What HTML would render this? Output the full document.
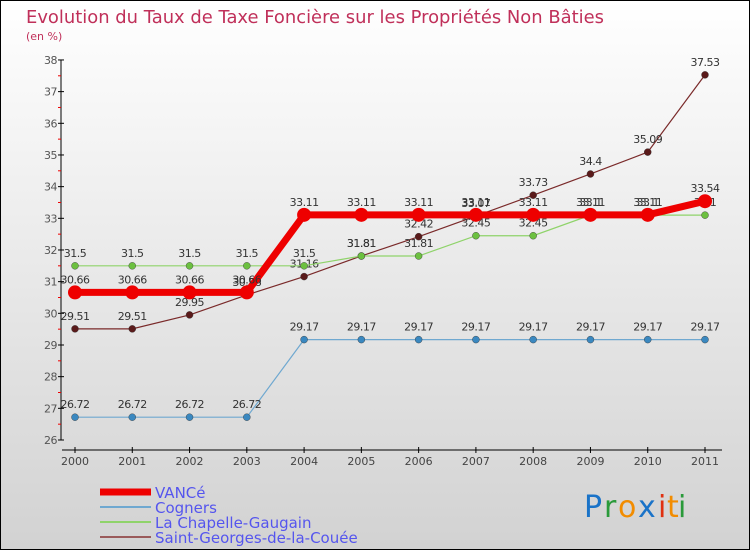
<!DOCTYPE html>
<html><head><meta charset="utf-8"><style>
body{margin:0}
svg text{font-family:"DejaVu Sans","Liberation Sans",sans-serif}
</style></head><body>
<svg id="c" width="750" height="550" viewBox="0 0 750 550" xmlns="http://www.w3.org/2000/svg">
<defs><linearGradient id="bg" x1="0" y1="0" x2="0" y2="1"><stop offset="0" stop-color="#ffffff"/><stop offset="1" stop-color="#d2d2d2"/></linearGradient></defs>
<rect x="0.5" y="0.5" width="749" height="549" fill="url(#bg)" stroke="#000"/>
<text x="26" y="23" font-size="18" fill="#c0305a" textLength="578" lengthAdjust="spacingAndGlyphs">Evolution du Taux de Taxe Foncière sur les Propriétés Non Bâties</text>
<text x="26" y="40" font-size="11" fill="#c0305a">(en %)</text>
<g id="axes"></g><g id="series"></g><g id="legend"></g>
<g font-size="30" font-family="DejaVu Sans, sans-serif">
<text x="584" y="517" fill="#1a73c8">P</text><text x="604" y="517" fill="#2a9a3a">r</text><text x="618" y="517" fill="#f28c00">o</text><text x="638" y="517" fill="#1a73c8">x</text><text x="658" y="517" fill="#e03010">i</text><text x="667" y="517" fill="#f28c00">t</text><text x="678" y="517" fill="#2a9a3a">i</text>
</g>
</svg>
<script>
const years=["2000","2001","2002","2003","2004","2005","2006","2007","2008","2009","2010","2011"];
const yTicks=[26,27,28,29,30,31,32,33,34,35,36,37,38];
const vance=[30.66,30.66,30.66,30.66,33.11,33.11,33.11,33.11,33.11,33.11,33.11,33.54];
const cogners=[26.72,26.72,26.72,26.72,29.17,29.17,29.17,29.17,29.17,29.17,29.17,29.17];
const chapelle=[31.5,31.5,31.5,31.5,31.5,31.81,31.81,32.45,32.45,33.1,33.1,33.1];
const stgeorges=[29.51,29.51,29.95,30.58,31.16,31.81,32.42,33.07,33.73,34.4,35.09,37.53];
const names=["VANCé","Cogners","La Chapelle-Gaugain","Saint-Georges-de-la-Couée"];
const NS="http://www.w3.org/2000/svg";
const xs=i=>75+i*(630/11);
const ys=v=>440-(v-26)*31.67;
function mk(p,t,a){const e=document.createElementNS(NS,t);for(const k in a)e.setAttribute(k,a[k]);p.appendChild(e);return e;}
const ax=document.getElementById('axes');
let yl=mk(ax,'line',{x1:61,y1:60,x2:61,y2:440,stroke:'#000','stroke-width':1});

yTicks.forEach(v=>{
 mk(ax,'line',{x1:58,y1:ys(v),x2:64,y2:ys(v),stroke:'#000'});
 if(v<38)mk(ax,'line',{x1:58,y1:ys(v+0.5),x2:61,y2:ys(v+0.5),stroke:'#e00'});
 const t=mk(ax,'text',{x:57,y:ys(v)+4,'font-size':11,fill:'#555','text-anchor':'end','letter-spacing':'-0.5'});t.textContent=v;
 
});
let xl=mk(ax,'line',{x1:62,y1:450,x2:722,y2:450,stroke:'#000'});

years.forEach((y,i)=>{
 mk(ax,'line',{x1:xs(i),y1:447,x2:xs(i),y2:453,stroke:'#000'});
 const t=mk(ax,'text',{x:xs(i),y:465,'font-size':11,fill:'#444','text-anchor':'middle'});t.textContent=y;
 
});
const sg=document.getElementById('series');
const defs=[
 {d:stgeorges,c:'#7a2a2a',pc:'#5a1a1a',w:1.2,r:3.5,n:'saint-georges'},
 {d:chapelle,c:'#8fd36a',pc:'#6cc040',w:1.2,r:3.5,n:'la-chapelle'},
 {d:cogners,c:'#6fa8d0',pc:'#3a88c0',w:1.2,r:3.5,n:'cogners'},
 {d:vance,c:'#ee0000',pc:'#ee0000',w:7,r:7,n:'vance'}];
defs.forEach(s=>{
 const g=mk(sg,'g',{});
 
 const pl=mk(g,'polyline',{points:s.d.map((v,i)=>xs(i)+','+ys(v)).join(' '),fill:'none',stroke:s.c,'stroke-width':s.w});
 
 s.d.forEach((v,i)=>{
  const c=mk(g,'circle',{cx:xs(i),cy:ys(v),r:s.r,fill:s.pc,stroke:s.w>2?'none':'#333','stroke-width':0.4});
  
  const t=mk(g,'text',{x:xs(i),y:ys(v)-9,'font-size':11,fill:'#333','text-anchor':'middle','letter-spacing':'-0.5'});t.textContent=v;
  
 });
});
const lg=document.getElementById('legend');
const lc=['#ee0000','#6fa8d0','#8fd36a','#9a5a5a'];const lw=[7,2,2,2];
names.forEach((n,i)=>{
 const y=492+i*15;
 const g=mk(lg,'g',{});
 
 mk(g,'line',{x1:100,y1:y,x2:151,y2:y,stroke:lc[i],'stroke-width':lw[i]});
 const t=mk(g,'text',{x:155,y:y+6,'font-size':15,fill:'#5555ee'});t.textContent=n;
});
</script>
</body></html>
